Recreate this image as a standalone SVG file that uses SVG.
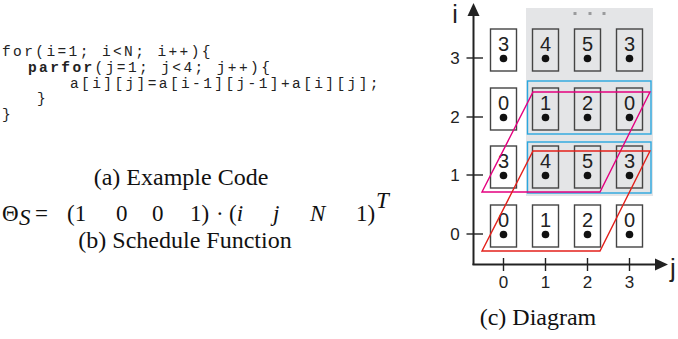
<svg xmlns="http://www.w3.org/2000/svg" width="678" height="339" viewBox="0 0 678 339">
<style>
.code{font-family:"Liberation Mono","Courier New",monospace;font-size:14.5px;letter-spacing:2.4px;fill:#222;}
.cap{font-family:"Liberation Serif","Times New Roman",serif;font-size:24px;fill:#111;}
.m{font-family:"Liberation Serif","Times New Roman",serif;font-size:23px;fill:#111;}
.mi{font-family:"Liberation Serif","Times New Roman",serif;font-size:23px;font-style:italic;fill:#111;}
.cell{stroke:#444;stroke-width:1.4;}
.w{fill:#fff;}
.g{fill:#e4e5e7;}
.num{font-family:"Liberation Sans",Arial,sans-serif;font-size:20px;fill:#222;text-anchor:middle;}
.dot{fill:#111;}
.tick{font-family:"Liberation Sans",Arial,sans-serif;font-size:17px;fill:#222;text-anchor:middle;}
.ax{stroke:#222;stroke-width:2;fill:none;}
.blue{fill:none;stroke:#2aa7df;stroke-width:1.4;}
</style>
<defs>
<g id="dotc"><circle cx="0" cy="0" r="3.8" class="dot"/></g>
</defs>

<g id="code">
<text class="code" x="2" y="56">for(i=1; i&lt;N; i++){</text>
<text class="code" x="28" y="72"><tspan font-weight="bold">parfor</tspan>(j=1; j&lt;4; j++){</text>
<text class="code" x="70" y="87.5">a[i][j]=a[i-1][j-1]+a[i][j];</text>
<text class="code" x="37" y="103">}</text>
<text class="code" x="2" y="118.5">}</text>
</g>
<text class="cap" x="181" y="185" text-anchor="middle">(a) Example Code</text>

<g id="formula">
<text class="m" x="2" y="221">Θ</text>
<text class="mi" x="19" y="225" font-size="16">S</text>
<text class="m" x="35" y="221">=</text>
<text class="m" x="67" y="221">(1</text>
<text class="m" x="116" y="221">0</text>
<text class="m" x="152" y="221">0</text>
<text class="m" x="190" y="221">1)</text>
<text class="m" x="216" y="221">·</text>
<text class="m" x="229" y="221">(<tspan class="mi">i</tspan></text>
<text class="mi" x="273" y="221">j</text>
<text class="mi" x="310" y="221">N</text>
<text class="m" x="356" y="221">1)</text>
<text class="mi" x="376" y="208" font-size="16">T</text>
</g>
<text class="cap" x="185" y="248" text-anchor="middle">(b) Schedule Function</text>

<!-- diagram -->
<rect x="526" y="8" width="127" height="188" fill="#e4e5e7"/>
<g fill="#9a9b9d">
<rect x="573.5" y="12" width="3" height="3"/>
<rect x="588.5" y="12" width="3" height="3"/>
<rect x="602.5" y="12" width="3" height="3"/>
</g>

<g id="connectors">
<line class="ax" x1="473.5" y1="265" x2="473.5" y2="15"/>
<polygon points="473.5,3 467.5,16 479.5,16" fill="#222"/>
<line class="ax" x1="472.5" y1="264.5" x2="656" y2="264.5"/>
<polygon points="668,264.5 655,258.5 655,270.5" fill="#222"/>
<g stroke="#222" stroke-width="1.4">
<line x1="466.5" y1="58" x2="483" y2="58"/>
<line x1="466.5" y1="117" x2="483" y2="117"/>
<line x1="466.5" y1="175" x2="483" y2="175"/>
<line x1="466.5" y1="234" x2="483" y2="234"/>
<line x1="503.5" y1="258" x2="503.5" y2="271"/>
<line x1="545.5" y1="258" x2="545.5" y2="271"/>
<line x1="587.5" y1="258" x2="587.5" y2="271"/>
<line x1="629.5" y1="258" x2="629.5" y2="271"/>
</g>
</g>
<text x="455" y="23" font-family="Liberation Sans,Arial,sans-serif" font-size="25" fill="#222" text-anchor="middle">i</text>
<text x="670" y="277" font-family="Liberation Sans,Arial,sans-serif" font-size="26" fill="#222">j</text>
<g class="tick">
<text x="455" y="64">3</text>
<text x="455" y="123">2</text>
<text x="455" y="181">1</text>
<text x="455" y="240">0</text>
<text x="503.5" y="288">0</text>
<text x="545.5" y="288">1</text>
<text x="587.5" y="288">2</text>
<text x="629.5" y="288">3</text>
</g>

<!-- row 3 -->
<g id="n30"><rect class="cell w" x="490.5" y="29" width="26" height="42"/><text class="num" x="503.5" y="51">3</text><use href="#dotc" x="503.5" y="58.5"/></g>
<g id="n31"><rect class="cell g" x="532.5" y="29" width="26" height="42"/><text class="num" x="545.5" y="51">4</text><use href="#dotc" x="545.5" y="58.5"/></g>
<g id="n32"><rect class="cell g" x="574.5" y="29" width="26" height="42"/><text class="num" x="587.5" y="51">5</text><use href="#dotc" x="587.5" y="58.5"/></g>
<g id="n33"><rect class="cell g" x="616.5" y="29" width="26" height="42"/><text class="num" x="629.5" y="51">3</text><use href="#dotc" x="629.5" y="58.5"/></g>
<!-- row 2 -->
<g id="n20"><rect class="cell w" x="490.5" y="88" width="26" height="42"/><text class="num" x="503.5" y="110">0</text><use href="#dotc" x="503.5" y="117.5"/></g>
<g id="n21"><rect class="cell g" x="532.5" y="88" width="26" height="42"/><text class="num" x="545.5" y="110">1</text><use href="#dotc" x="545.5" y="117.5"/></g>
<g id="n22"><rect class="cell g" x="574.5" y="88" width="26" height="42"/><text class="num" x="587.5" y="110">2</text><use href="#dotc" x="587.5" y="117.5"/></g>
<g id="n23"><rect class="cell g" x="616.5" y="88" width="26" height="42"/><text class="num" x="629.5" y="110">0</text><use href="#dotc" x="629.5" y="117.5"/></g>
<!-- row 1 -->
<g id="n10"><rect class="cell w" x="490.5" y="146" width="26" height="42"/><text class="num" x="503.5" y="168">3</text><use href="#dotc" x="503.5" y="175.5"/></g>
<g id="n11"><rect class="cell g" x="532.5" y="146" width="26" height="42"/><text class="num" x="545.5" y="168">4</text><use href="#dotc" x="545.5" y="175.5"/></g>
<g id="n12"><rect class="cell g" x="574.5" y="146" width="26" height="42"/><text class="num" x="587.5" y="168">5</text><use href="#dotc" x="587.5" y="175.5"/></g>
<g id="n13"><rect class="cell g" x="616.5" y="146" width="26" height="42"/><text class="num" x="629.5" y="168">3</text><use href="#dotc" x="629.5" y="175.5"/></g>
<!-- row 0 -->
<g id="n00"><rect class="cell w" x="490.5" y="205" width="26" height="42"/><text class="num" x="503.5" y="227">0</text><use href="#dotc" x="503.5" y="234.5"/></g>
<g id="n01"><rect class="cell w" x="532.5" y="205" width="26" height="42"/><text class="num" x="545.5" y="227">1</text><use href="#dotc" x="545.5" y="234.5"/></g>
<g id="n02"><rect class="cell w" x="574.5" y="205" width="26" height="42"/><text class="num" x="587.5" y="227">2</text><use href="#dotc" x="587.5" y="234.5"/></g>
<g id="n03"><rect class="cell w" x="616.5" y="205" width="26" height="42"/><text class="num" x="629.5" y="227">0</text><use href="#dotc" x="629.5" y="234.5"/></g>

<g id="groups">
<rect class="blue" x="527.5" y="81" width="123.5" height="53"/>
<rect class="blue" x="527.5" y="142" width="123.5" height="51"/>
<polygon points="533,92 650,92 600,192 482,192" fill="none" stroke="#e4007f" stroke-width="1.4"/>
<polygon points="533,151 650,151 600,251 482,251" fill="none" stroke="#e3201b" stroke-width="1.4"/>
</g>

<text class="cap" x="538" y="325" text-anchor="middle">(c) Diagram</text>
</svg>
